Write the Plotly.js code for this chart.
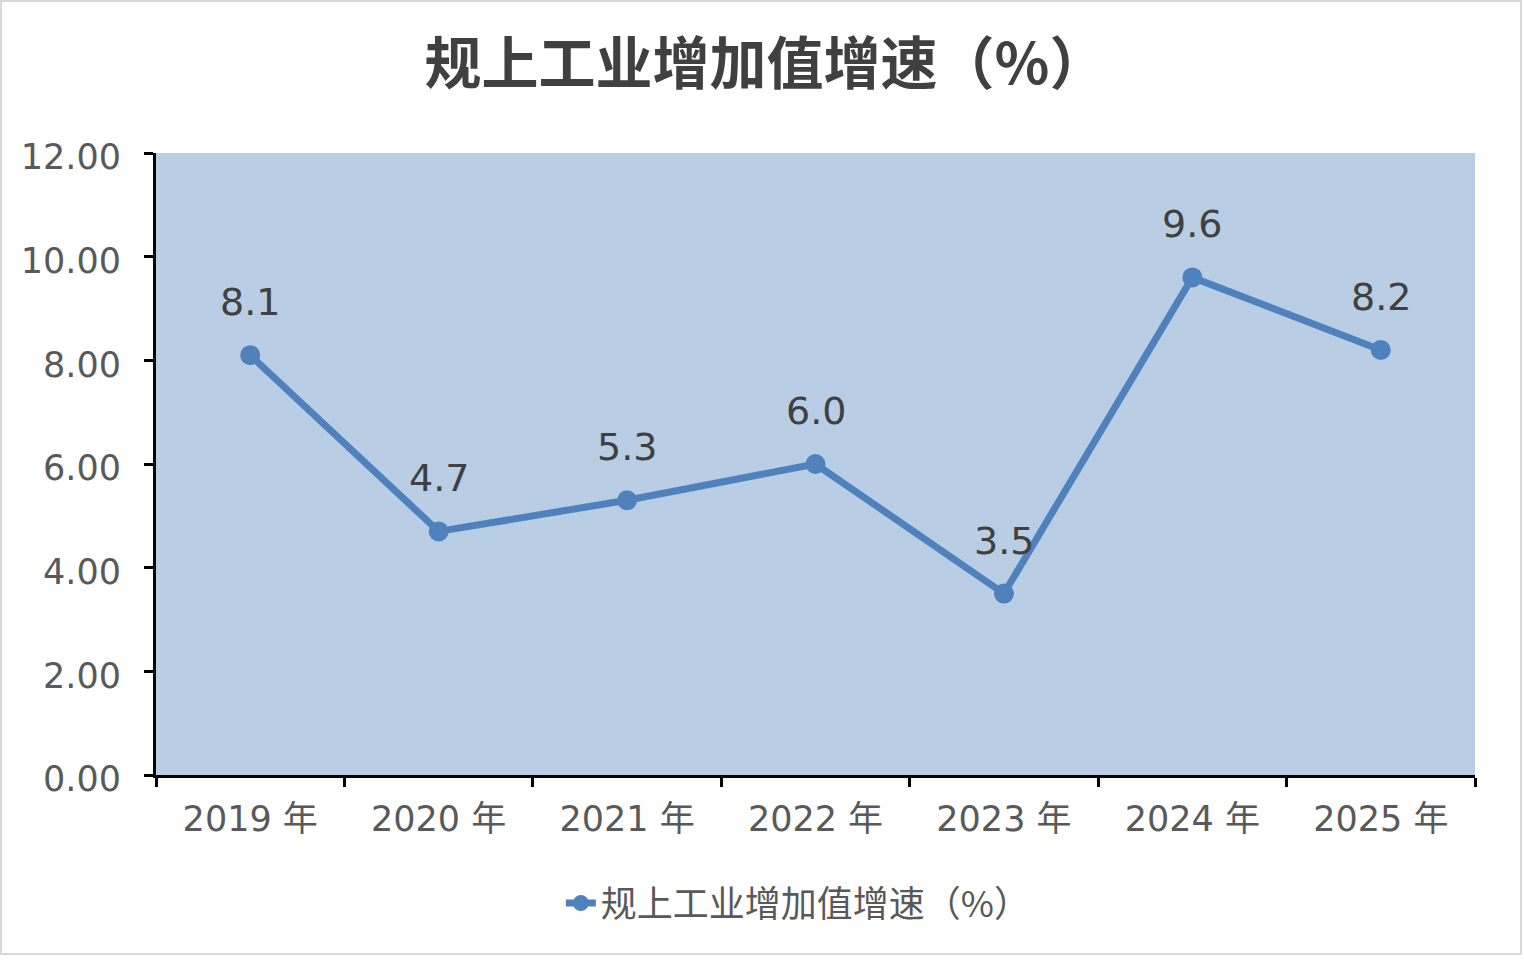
<!DOCTYPE html>
<html>
<head>
<meta charset="utf-8">
<script src="https://cdn.plot.ly/plotly-3.0.1.min.js"></script>
<style>
  html, body { margin: 0; padding: 0; background: #ffffff; }
  #wrap { width: 1518px; height: 951px; border: 2px solid #d9d9d9; background: #ffffff; }
</style>
</head>
<body>
<div id="wrap"><div id="chart"></div></div>
<script>
const chartTitle = '规上工业增加值增速（%）';
const seriesName = '规上工业增加值增速（%）';
const categories = ['2019 年', '2020 年', '2021 年', '2022 年', '2023 年', '2024 年', '2025 年'];
const values = [8.1, 4.7, 5.3, 6.0, 3.5, 9.6, 8.2];
const yTickValues = [0, 2, 4, 6, 8, 10, 12];

const FONT = 'DejaVu Sans, Noto Sans CJK SC, sans-serif';
const lineColor = '#4f81bd';

const trace = {
  type: 'scatter',
  mode: 'lines+markers',
  name: seriesName,
  x: categories,
  y: values,
  line: { color: lineColor, width: 7 },
  marker: { color: lineColor, size: 20 },
  hoverinfo: 'skip'
};

const annotations = categories.map((c, i) => ({
  x: c,
  y: values[i],
  xref: 'x',
  yref: 'y',
  text: values[i].toFixed(1),
  showarrow: false,
  yshift: 53,
  font: { family: FONT, size: 38, color: '#404040' }
}));

const layout = {
  width: 1518,
  height: 951,
  margin: { l: 154, r: 45, t: 151, b: 178 },
  paper_bgcolor: '#ffffff',
  plot_bgcolor: '#b9cde5',
  showlegend: true,
  title: {
    text: chartTitle,
    xref: 'container', yref: 'container',
    x: 0.503, y: 0.935, xanchor: 'center', yanchor: 'middle',
    font: { family: 'Noto Sans CJK SC, DejaVu Sans, sans-serif', size: 57, color: '#404040', weight: 'bold' }
  },
  xaxis: {
    type: 'category',
    range: [-0.5, 6.5],
    showgrid: false,
    zeroline: false,
    showline: true,
    linecolor: '#000000',
    linewidth: 3,
    ticks: 'outside',
    tickson: 'boundaries',
    ticklen: 9,
    tickwidth: 3,
    tickcolor: '#000000',
    tickfont: { family: FONT, size: 35, color: '#595959' },
    ticklabelstandoff: 11,
    fixedrange: true
  },
  yaxis: {
    range: [0, 12],
    tickvals: yTickValues,
    ticktext: yTickValues.map(v => v.toFixed(2)),
    showgrid: false,
    zeroline: false,
    showline: true,
    linecolor: '#000000',
    linewidth: 3,
    ticks: 'outside',
    ticklen: 9,
    tickwidth: 3,
    tickcolor: '#000000',
    tickfont: { family: FONT, size: 35, color: '#595959' },
    ticklabelstandoff: 16,
    ticklabelshift: 4,
    fixedrange: true
  },
  legend: {
    orientation: 'h',
    x: 0.487, y: -0.206,
    xanchor: 'center', yanchor: 'middle',
    font: { family: 'Noto Sans CJK SC, DejaVu Sans, sans-serif', size: 36, color: '#595959' },
    bgcolor: 'rgba(0,0,0,0)'
  },
  annotations: annotations
};

Plotly.newPlot('chart', [trace], layout, { displayModeBar: false, staticPlot: true });
</script>
</body>
</html>
